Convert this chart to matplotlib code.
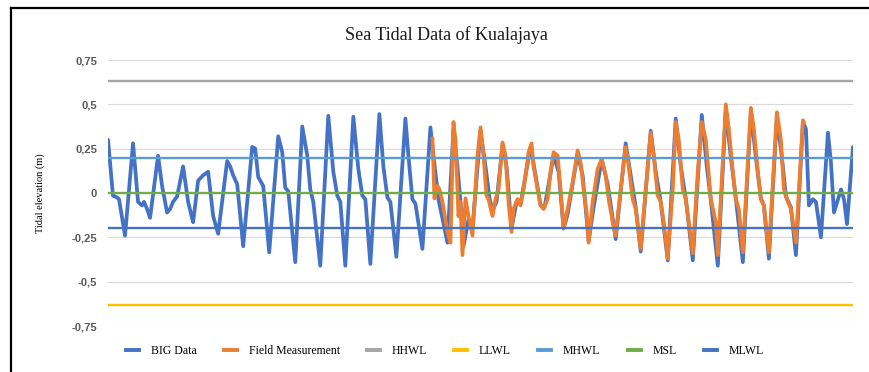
import matplotlib
matplotlib.use("Agg")
import matplotlib.pyplot as plt
from matplotlib.lines import Line2D

# Hourly tidal record, hours from start of the month
blue_hours = [0, 5, 9, 11, 17, 25, 30, 34, 36, 39, 42, 50, 54, 59, 62, 65, 69, 75, 80, 85,
              90, 95, 100, 105, 110, 119, 122, 125, 129, 135, 144, 147, 150, 155, 161,
              170, 174, 177, 180, 187, 194, 199, 202, 205, 212, 220, 225, 229, 232, 237,
              245, 250, 254, 257, 262, 271, 275, 279, 282, 288, 297, 300, 304, 307, 314,
              322, 325, 330, 339, 345, 349, 352, 355, 360, 364, 372, 377, 381, 384, 388,
              394, 398, 403, 408, 412, 422, 427, 432, 436, 445, 450, 455, 459, 469, 474,
              480, 485, 493, 499, 507, 517, 522, 527, 532, 542, 547, 552, 559, 567, 572,
              577, 584, 593, 598, 602, 609, 617, 622, 627, 634, 642, 647, 652, 655, 660,
              668, 673, 677, 682, 687, 694, 697, 700, 704, 707, 712, 719, 722, 725, 729,
              732, 735, 738, 742, 744]
blue_level = [0.30, -0.015, -0.025, -0.035, -0.24, 0.28, -0.05, -0.07, -0.05, -0.09, -0.14,
              0.21, 0.04, -0.11, -0.09, -0.05, -0.02, 0.15, -0.05, -0.165,
              0.07, 0.10, 0.12, -0.13, -0.23, 0.18, 0.15, 0.10, 0.05, -0.30, 0.26, 0.25,
              0.09, 0.04, -0.335,
              0.32, 0.23, 0.03, 0.01, -0.39, 0.375, 0.21, 0.02, -0.05, -0.41, 0.435, 0.12,
              -0.015, -0.05, -0.41,
              0.43, 0.135, -0.015, -0.035, -0.40, 0.445, 0.15, -0.025, -0.05, -0.36, 0.42,
              0.21, -0.035, -0.06, -0.315,
              0.37, 0.21, -0.035, -0.28, 0.36, 0.15, -0.05, -0.30, -0.15, -0.20, 0.35, 0.15,
              -0.03, -0.10, -0.05,
              0.27, 0.15, -0.20, -0.05, -0.06, 0.26, 0.10, -0.07, -0.08, 0.21, 0.12, -0.20,
              -0.12, 0.22, 0.10,
              -0.27, -0.08, 0.19, 0.05, -0.26, 0.28, 0.10, -0.08, -0.33, 0.35, 0.12, -0.05,
              -0.38, 0.42, 0.15,
              -0.03, -0.38, 0.44, 0.15, -0.04, -0.41, 0.47, 0.20, -0.03, -0.39, 0.46, 0.20,
              -0.03, -0.07, -0.37,
              0.43, 0.20, -0.02, -0.08, -0.35, 0.40, 0.36, -0.07, -0.035, -0.05, -0.25,
              0.34, 0.17, -0.11, -0.035,
              0.02, -0.035, -0.175, 0.12, 0.26]

field_hours = [324, 326, 329, 331, 334, 339, 342, 345, 347, 349, 350, 352, 354, 357, 360,
               364, 369, 372, 375, 378, 380, 384, 387, 390, 394, 397, 400, 403, 405, 409,
               412, 415, 417, 420, 423, 425, 429, 432, 435, 439, 442, 445, 449, 452, 455,
               459, 464, 469, 472, 475, 478, 480, 484, 489, 493, 497, 500, 504, 507, 512,
               517, 520, 524, 527, 532, 537, 542, 545, 549, 552, 555, 559, 564, 567, 570,
               574, 577, 580, 584, 589, 593, 597, 602, 607, 609, 617, 620, 624, 627, 630,
               634, 642, 645, 649, 652, 655, 660, 668, 672, 675, 679, 682, 687, 694, 695]
field_level = [0.31, -0.03, 0.04, 0.02, -0.05, -0.22, -0.28, 0.40, 0.30, 0.02, -0.13,
               -0.05, -0.35, -0.03, -0.13,
               -0.24, 0.21, 0.37, 0.21, -0.015, -0.035, -0.13, -0.035, 0.02, 0.285, 0.21,
               -0.05, -0.22, -0.09, -0.035,
               -0.07, 0.02, 0.10, 0.23, 0.28, 0.15, 0.02, -0.07, -0.09, -0.035, 0.12, 0.23,
               0.21, 0.02, -0.20,
               -0.09, 0.06, 0.24, 0.17, 0.02, -0.11, -0.28, -0.05, 0.135, 0.19, 0.10,
               -0.035, -0.165, -0.24, 0.02,
               0.26, 0.15, -0.035, -0.09, -0.315, 0.02, 0.34, 0.21, -0.015, -0.05, -0.165,
               -0.37, 0.02, 0.40, 0.30,
               0.02, -0.035, -0.165, -0.34, 0.12, 0.40, 0.30, -0.035, -0.165, -0.35, 0.50,
               0.36, 0.12, -0.035, -0.09,
               -0.335, 0.48, 0.36, 0.12, -0.035, -0.07, -0.335, 0.455, 0.30, 0.02, -0.05,
               -0.09, -0.28, 0.41, 0.40]

# Reference water levels (m)
datum_names = ["HHWL", "LLWL", "MHWL", "MSL", "MLWL"]
datum_levels = [0.63, -0.63, 0.20, 0.00, -0.20]
datum_colors = ["#A5A5A5", "#FFC000", "#5B9BD5", "#70AD47", "#4472C4"]

y_ticks = [0.75, 0.5, 0.25, 0, -0.25, -0.5, -0.75]
y_tick_labels = ["0,75", "0,5", "0,25", "0", "-0,25", "-0,5", "-0,75"]

W, H = 870, 372
fig = plt.figure(figsize=(W / 100, H / 100), dpi=100)
ax = fig.add_axes([108 / W, 1 - 326 / H, (853 - 108) / W, (326 - 60) / H])

serif = "Liberation Serif"

ax.plot(blue_hours, blue_level, color="#4472C4", lw=2.7, solid_joinstyle="round",
        solid_capstyle="round", label="BIG Data", zorder=3)
ax.plot(field_hours, field_level, color="#ED7D31", lw=2.7, solid_joinstyle="round",
        solid_capstyle="round", label="Field Measurement", zorder=4)
x0, x1 = blue_hours[0], blue_hours[-1]
for name, lvl, col in zip(datum_names, datum_levels, datum_colors):
    ax.plot([x0, x1], [lvl, lvl], color=col, lw=1.7, label=name, zorder=5)

ax.set_xlim(x0, x1)
ax.set_ylim(-0.75, 0.75)
ax.set_yticks(y_ticks)
ax.set_yticklabels(y_tick_labels, fontfamily="Liberation Sans", fontweight="bold",
                   fontsize=8, color="#595959")
ax.set_xticks([])
ax.tick_params(axis="y", length=0, pad=8)
ax.grid(axis="y", color="#D9D9D9", lw=0.8, zorder=0)
ax.set_axisbelow(True)
for s in ax.spines.values():
    s.set_visible(False)

ax.set_ylabel("Tidal elevation (m)", fontfamily=serif, fontsize=7.5, color="black")
ax.yaxis.set_label_coords((45 - 108) / (853 - 108), 0.5)

fig.text(446 / W, 1 - 35 / H, "Sea Tidal Data of Kualajaya", fontfamily=serif,
         fontsize=13, ha="center", va="center", color="#1a1a1a")

handles, labels = ax.get_legend_handles_labels()
leg_handles = [Line2D([0], [0], color=h.get_color(), lw=2.8) for h in handles]
fig.legend(leg_handles, labels, loc="center", bbox_to_anchor=(445 / W, 1 - 351 / H),
           ncol=7, frameon=False, prop={"family": serif, "size": 8.5},
           handlelength=1.1, handletextpad=1.0, columnspacing=2.3)

# Outer frame: left and top edges
fig.add_artist(Line2D([11 / W, 11 / W], [0, 1 - 8 / H], color="black", lw=1.6,
                      transform=fig.transFigure))
fig.add_artist(Line2D([11 / W, 1], [1 - 8 / H, 1 - 8 / H], color="black", lw=1.6,
                      transform=fig.transFigure))

fig.savefig("out.png", dpi=100)
